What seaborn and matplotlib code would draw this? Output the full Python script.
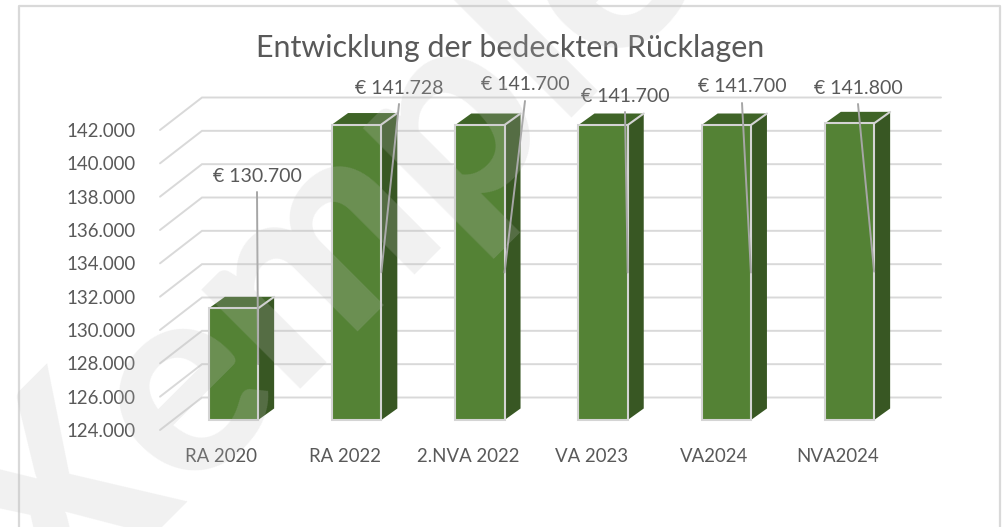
import matplotlib
matplotlib.use('Agg')
import matplotlib.pyplot as plt
from matplotlib.lines import Line2D
from matplotlib.patches import Polygon
from matplotlib.transforms import ScaledTranslation
import numpy as np
import seaborn as sns

categories = ['RA 2020', 'RA 2022', '2.NVA 2022', 'VA 2023', 'VA2024', 'NVA2024']
values = [130700, 141728, 141700, 141700, 141700, 141800]
value_labels = ['€ 130.700', '€ 141.728', '€ 141.700', '€ 141.700', '€ 141.700', '€ 141.800']
y_ticks = [124000, 126000, 128000, 130000, 132000, 134000, 136000, 138000, 140000, 142000]
y_tick_labels = ['124.000', '126.000', '128.000', '130.000', '132.000', '134.000', '136.000', '138.000', '140.000', '142.000']

# label centres in the picture, pixels from top left
label_pos = [(257, 176), (399, 88), (525, 85), (625, 96), (742, 87), (858, 88)]

W, H = 1004, 527
GREEN = '#548235'
SIDE = '#385723'
TOP = '#3f6427'
EDGE = '#d4d4d4'
GRID = '#d9d9d9'
TEXT = '#595959'


def main():
    sns.set_theme(style='white')
    plt.rcParams['font.family'] = ['Lato', 'DejaVu Sans']

    fig = plt.figure(figsize=(W / 100, H / 100), dpi=100)
    ax = fig.add_axes([160 / W, 1 - 420 / H, (941 - 160) / W, 300 / H])

    sns.barplot(x=categories, y=values, color=GREEN, saturation=1, width=0.4,
                edgecolor=EDGE, linewidth=1.5, ax=ax, zorder=4)

    # pixel scale of the bar plane
    sx = 123.2
    sy = 300 / 18000
    x0 = 233.5
    ax.set_xlim((160 - x0) / sx, (941 - x0) / sx)
    ax.set_ylim(124000, 142000)

    # start bars at the axis so the bottom edge is not clipped
    for p, v in zip(ax.patches, values):
        p.set_y(124000)
        p.set_height(v - 124000)
        p.set_clip_on(False)

    # side and top faces of each bar
    dx = 16 / sx
    dy = 11.5 / sy
    for p, v in zip(list(ax.patches), values):
        l = p.get_x()
        r = l + p.get_width()
        side = [(r, 124000), (r + dx, 124000 + dy), (r + dx, v + dy), (r, v)]
        top = [(l, v), (r, v), (r + dx, v + dy), (l + dx, v + dy)]
        ax.add_patch(Polygon(side, closed=True, fc=SIDE, ec='none', zorder=3, clip_on=False))
        ax.add_patch(Polygon(top, closed=True, fc=TOP, ec='none', zorder=3, clip_on=False))
        ax.plot([r, r + dx], [v, v + dy], color=EDGE, lw=1.5, zorder=3.5, clip_on=False)

    # gridlines: slanted wall part, then along the back
    for t in y_ticks:
        y_front = t - 10 / sy
        y_back = t + 22.5 / sy
        ax.plot([(160 - x0) / sx, (202 - x0) / sx, (941 - x0) / sx], [y_front, y_back, y_back],
                color=GRID, lw=1.4, zorder=1, clip_on=False, solid_joinstyle='miter')

    ax.set_yticks(y_ticks)
    ax.set_yticklabels(y_tick_labels)
    ax.tick_params(axis='y', length=0, pad=17.5, labelsize=13.4, labelcolor=TEXT)
    ax.tick_params(axis='x', length=0, pad=20, labelsize=13.4, labelcolor=TEXT)
    px = fig.dpi_scale_trans
    for lab in ax.get_yticklabels():
        lab.set_transform(lab.get_transform() + ScaledTranslation(0, -10 / 100, px))
    for lab in ax.get_xticklabels():
        lab.set_transform(lab.get_transform() + ScaledTranslation(-12 / 100, 0, px))
    sns.despine(ax=ax, left=True, bottom=True)

    # value labels with leader lines to the middle of the bar edge
    for p, v, txt, pos in zip(ax.patches, values, value_labels, label_pos):
        r = p.get_x() + p.get_width()
        ax.annotate('', xy=(r, (124000 + v) / 2), xytext=(pos[0] / W, 1 - (pos[1] + 16) / H),
                    xycoords='data', textcoords='figure fraction', zorder=5,
                    arrowprops=dict(arrowstyle='-', color='#a6a6a6', lw=1.4, shrinkA=0, shrinkB=0))
        ax.text(pos[0] / W, 1 - pos[1] / H, txt, transform=fig.transFigure, ha='center', va='center',
                fontsize=14, color=TEXT, zorder=6)

    fig.text(510 / W, 1 - 48 / H, 'Entwicklung der bedeckten Rücklagen', ha='center', va='center',
             fontsize=21.9, color=TEXT)

    # chart frame, runs off the bottom of the picture
    fx = [19 / W, 19 / W, 1000 / W, 1000 / W]
    fy = [0, 1 - 6 / H, 1 - 6 / H, 0]
    fig.add_artist(Line2D(fx, fy, color=GRID, lw=1.6, transform=fig.transFigure))

    # watermark
    fig.text(330 / W, 1 - 249 / H, 'Xemple', rotation=45, ha='center', va='center', rotation_mode='anchor',
             fontsize=195, fontweight='black', color='#bfbfbf', alpha=0.22, zorder=10)

    fig.savefig('out.png', dpi=100)


if __name__ == "__main__":
    main()
